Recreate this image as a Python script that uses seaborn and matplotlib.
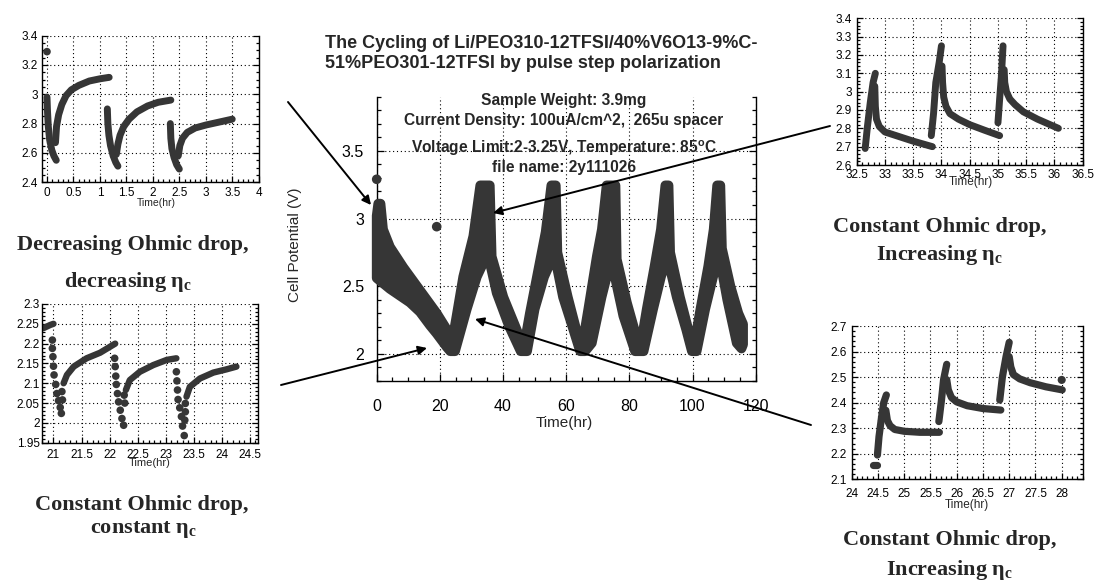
import numpy as np
import matplotlib
matplotlib.use("Agg")
import matplotlib.pyplot as plt
from matplotlib.ticker import MultipleLocator
import seaborn as sns

# ---------------- data ----------------
# main chart: outline of the dense band of points (upper and lower edge)
MAIN_UP_T = [0.0, 0.5, 1.2, 2.0, 4.2, 8.4, 13.7, 19.0, 22.2, 23.6,
             25.3, 27.4, 30.6, 32.8, 35.8, 36.4, 40.1, 44.3, 46.6,
             48.5, 51.0, 53.5, 55.3, 56.7, 57.2, 60.5, 63.5, 65.0,
             67.0, 69.7, 71.3, 72.8, 75.6, 76.0, 79.2, 82.8, 83.5,
             85.5, 88.0, 90.0, 91.4, 92.4, 92.9, 96.0, 99.0, 100.4,
             102.5, 105.0, 106.7, 107.8, 108.8, 109.3, 112.0, 114.5, 116.0, 116.0]
MAIN_UP_V = [3.02, 3.11, 3.11, 2.92, 2.79, 2.64, 2.47, 2.30, 2.18, 2.05,
             2.28, 2.57, 2.87, 3.245, 3.245, 2.72, 2.42, 2.18, 2.05,
             2.30, 2.60, 2.90, 3.245, 3.245, 2.75, 2.42, 2.15, 2.05,
             2.33, 2.72, 2.92, 3.245, 3.245, 2.70, 2.38, 2.08, 2.05,
             2.33, 2.65, 2.92, 3.245, 3.245, 2.75, 2.42, 2.15, 2.05,
             2.33, 2.65, 2.92, 3.245, 3.245, 2.78, 2.50, 2.30, 2.22, 2.07]
MAIN_LO_T = [0.0, 4.2, 10.5, 13.7, 16.9, 19.0, 22.2, 23.3, 24.8,
             28.5, 31.7, 34.3, 35.4, 38.0, 42.0, 45.6, 47.6,
             50.0, 53.0, 55.5, 56.4, 59.0, 62.0, 64.4, 66.0,
             68.1, 71.2, 73.9, 74.5, 78.1, 81.8, 84.5,
             87.5, 90.0, 92.0, 95.0, 98.0, 99.8, 101.3,
             104.0, 106.5, 108.5, 111.0, 114.0, 115.5]
MAIN_LO_V = [2.56, 2.48, 2.38, 2.31, 2.21, 2.15, 2.05, 2.02, 2.02,
             2.33, 2.57, 2.70, 2.72, 2.45, 2.20, 2.02, 2.02,
             2.33, 2.57, 2.70, 2.72, 2.42, 2.20, 2.02, 2.02,
             2.08, 2.42, 2.67, 2.67, 2.28, 2.02, 2.02,
             2.33, 2.57, 2.72, 2.42, 2.18, 2.02, 2.02,
             2.33, 2.57, 2.72, 2.40, 2.08, 2.04]
MAIN_DOT_T = [0.0, 19.0]
MAIN_DOT_V = [3.29, 2.94]
MAIN_XTICKS = [0, 20, 40, 60, 80, 100, 120]
MAIN_YTICKS = [2, 2.5, 3, 3.5]

# inset A: decreasing ohmic drop (0-3.5 h)
A_T = [[0.0, 0.01, 0.025, 0.05, 0.09, 0.13, 0.175],
       [0.16, 0.18, 0.22, 0.28, 0.36, 0.46, 0.60, 0.80, 1.00, 1.175],
       [1.14, 1.15, 1.17, 1.20, 1.25, 1.30, 1.34],
       [1.31, 1.34, 1.38, 1.45, 1.55, 1.70, 1.90, 2.10, 2.34],
       [2.33, 2.34, 2.36, 2.40, 2.45, 2.50],
       [2.48, 2.51, 2.56, 2.65, 2.80, 3.00, 3.25, 3.50]]
A_V = [[2.98, 2.88, 2.78, 2.69, 2.62, 2.58, 2.55],
       [2.67, 2.78, 2.86, 2.93, 2.99, 3.03, 3.06, 3.09, 3.105, 3.115],
       [2.90, 2.80, 2.72, 2.65, 2.58, 2.535, 2.51],
       [2.59, 2.66, 2.72, 2.78, 2.83, 2.88, 2.92, 2.945, 2.96],
       [2.80, 2.70, 2.63, 2.57, 2.52, 2.49],
       [2.58, 2.65, 2.70, 2.74, 2.77, 2.79, 2.81, 2.83]]
A_DOT_T = [0.0]
A_DOT_V = [3.29]
A_XTICKS = [0, 0.5, 1, 1.5, 2, 2.5, 3, 3.5, 4]
A_YTICKS = [2.4, 2.6, 2.8, 3.0, 3.2, 3.4]

# inset B: constant ohmic drop, constant eta_c (21-24.3 h)
B_LINE_T = [[20.82, 20.88, 20.94, 21.0],
            [21.18, 21.24, 21.36, 21.59, 21.83, 22.10],
            [22.29, 22.36, 22.54, 22.78, 23.02, 23.19],
            [23.37, 23.43, 23.61, 23.85, 24.08, 24.26]]
B_LINE_V = [[2.239, 2.243, 2.247, 2.250],
            [2.100, 2.121, 2.142, 2.163, 2.177, 2.200],
            [2.083, 2.108, 2.129, 2.146, 2.159, 2.163],
            [2.066, 2.091, 2.112, 2.127, 2.135, 2.142]]
B_DOT_T = [20.98, 20.98, 20.99, 21.0, 21.01, 21.04, 21.06, 21.09, 21.12, 21.14,
           21.15, 21.16,
           22.09, 22.10, 22.11, 22.12, 22.14, 22.16, 22.19, 22.22, 22.25,
           22.26, 22.27,
           23.19, 23.20, 23.21, 23.22, 23.25, 23.28, 23.30, 23.33,
           23.35, 23.35, 23.34]
B_DOT_V = [2.209, 2.188, 2.167, 2.143, 2.121, 2.097, 2.074, 2.056, 2.039, 2.024,
           2.079, 2.058,
           2.163, 2.142, 2.118, 2.097, 2.074, 2.053, 2.032, 2.011, 1.994,
           2.070, 2.050,
           2.129, 2.106, 2.083, 2.059, 2.038, 2.016, 1.992, 1.968,
           2.049, 2.028, 2.007]
B_XTICKS = [21, 21.5, 22, 22.5, 23, 23.5, 24, 24.5]
B_YTICKS = [1.95, 2.0, 2.05, 2.1, 2.15, 2.2, 2.25, 2.3]

# inset C: constant ohmic drop, increasing eta_c (32.5-36 h)
C_T = [[32.65, 32.69, 32.74, 32.79, 32.83],
       [32.82, 32.83, 32.85, 32.90, 33.00, 33.20, 33.50, 33.84],
       [33.82, 33.86, 33.90, 33.96, 34.00],
       [34.01, 34.02, 34.04, 34.08, 34.15, 34.30, 34.50, 34.76, 35.03],
       [35.00, 35.03, 35.06, 35.09],
       [35.11, 35.12, 35.15, 35.21, 35.30, 35.45, 35.70, 36.07]]
C_V = [[2.69, 2.81, 2.94, 3.05, 3.10],
       [3.03, 2.92, 2.85, 2.81, 2.78, 2.76, 2.73, 2.70],
       [2.76, 2.88, 3.05, 3.16, 3.25],
       [3.14, 3.05, 2.97, 2.92, 2.88, 2.85, 2.82, 2.79, 2.76],
       [2.83, 2.96, 3.08, 3.25],
       [3.12, 3.05, 3.00, 2.96, 2.93, 2.89, 2.85, 2.80]]
C_XTICKS = [32.5, 33, 33.5, 34, 34.5, 35, 35.5, 36, 36.5]
C_YTICKS = [2.6, 2.7, 2.8, 2.9, 3.0, 3.1, 3.2, 3.3, 3.4]

# inset D: constant ohmic drop, increasing eta_c (24.4-28 h)
D_T = [[24.41, 24.49],
       [24.49, 24.52, 24.57, 24.61, 24.66],
       [24.65, 24.68, 24.73, 24.82, 25.00, 25.30, 25.67],
       [25.66, 25.71, 25.75, 25.81],
       [25.81, 25.84, 25.90, 26.00, 26.20, 26.50, 26.84],
       [26.82, 26.87, 26.94, 27.00],
       [27.00, 27.03, 27.08, 27.20, 27.40, 27.70, 28.01]]
D_V = [[2.156, 2.156],
       [2.195, 2.267, 2.345, 2.400, 2.430],
       [2.370, 2.330, 2.310, 2.295, 2.288, 2.284, 2.284],
       [2.326, 2.410, 2.490, 2.550],
       [2.490, 2.450, 2.420, 2.403, 2.388, 2.377, 2.371],
       [2.410, 2.500, 2.580, 2.636],
       [2.580, 2.540, 2.510, 2.493, 2.478, 2.462, 2.450]]
D_DOT_T = [28.0]
D_DOT_V = [2.489]
D_XTICKS = [24, 24.5, 25, 25.5, 26, 26.5, 27, 27.5, 28]
D_YTICKS = [2.1, 2.2, 2.3, 2.4, 2.5, 2.6, 2.7]

TITLE = "The Cycling of Li/PEO310-12TFSI/40%V6O13-9%C-\n51%PEO301-12TFSI by pulse step polarization"
INFO = ["Sample Weight: 3.9mg",
        "Current Density: 100uA/cm^2,  265u spacer",
        r"Voltage Limit:2-3.25V, Temperature: 85$^{\mathsf{o}}$C",
        "file name: 2y111026"]
CAPTIONS = ["Decreasing Ohmic drop,", r"decreasing η$_{\mathbf{c}}$",
            "Constant Ohmic drop,", r"constant η$_{\mathbf{c}}$",
            "Constant Ohmic drop,", r"Increasing η$_{\mathbf{c}}$",
            "Constant Ohmic drop,", r"Increasing η$_{\mathbf{c}}$"]

# ---------------- style ----------------
sns.set_theme(style="ticks")
plt.rcParams["font.family"] = ["Liberation Sans", "DejaVu Sans"]
plt.rcParams["mathtext.fontset"] = "custom"
plt.rcParams["mathtext.rm"] = "Liberation Serif:bold"
plt.rcParams["mathtext.bf"] = "Liberation Serif:bold"
plt.rcParams["mathtext.sf"] = "Liberation Sans:bold"

DARK = "#363636"
W, H = 1095, 582
fig = plt.figure(figsize=(W / 100, H / 100), dpi=100)
fig.patch.set_facecolor("white")


def px_axes(left, top, right, bottom):
    return fig.add_axes([left / W, 1 - bottom / H, (right - left) / W, (bottom - top) / H])


def fmt(v):
    return ("%g" % v)


def style_axes(ax, xticks, yticks, xminor, yminor, fs, xpad, ypad, maj=4, mnr=2.2):
    ax.set_xticks(xticks, [fmt(v) for v in xticks])
    ax.set_yticks(yticks, [fmt(v) for v in yticks])
    ax.xaxis.set_minor_locator(MultipleLocator(xminor))
    ax.yaxis.set_minor_locator(MultipleLocator(yminor))
    ax.tick_params(which="both", direction="in", left=True, right=True,
                   bottom=True, top=False, color="black", width=0.9)
    ax.tick_params(which="major", length=maj)
    ax.tick_params(which="minor", length=mnr)
    ax.tick_params(axis="x", which="major", labelsize=fs, pad=xpad, labelcolor="black")
    ax.tick_params(axis="y", which="major", labelsize=fs, pad=ypad, labelcolor="black")
    ax.grid(True, which="major", color="black", lw=0.8, ls=(0, (1, 2.5)))
    for s in ["left", "right", "bottom"]:
        ax.spines[s].set_color("black")
        ax.spines[s].set_linewidth(1.0)
    ax.spines["top"].set_visible(False)
    ax.set_facecolor("white")


def draw_segments(ax, ts, vs, lw):
    for t, v in zip(ts, vs):
        sns.lineplot(x=t, y=v, ax=ax, sort=False, estimator=None, color=DARK,
                     lw=lw, solid_capstyle="round", solid_joinstyle="round")


# ---------------- main chart ----------------
axm = px_axes(376.7, 96.7, 755.7, 381.0)
axm.set_xlim(0, 120)
axm.set_ylim(1.8, 3.9)
style_axes(axm, MAIN_XTICKS, MAIN_YTICKS, 5, 0.1, 11.5, 13, 9, maj=5, mnr=3)
poly_t = np.r_[MAIN_UP_T, MAIN_LO_T[::-1]]
poly_v = np.r_[MAIN_UP_V, MAIN_LO_V[::-1]]
axm.fill(poly_t, poly_v, facecolor=DARK, edgecolor=DARK, lw=7,
         joinstyle="round", clip_on=False, zorder=3)
sns.scatterplot(x=MAIN_DOT_T, y=MAIN_DOT_V, ax=axm, s=48, color=DARK,
                edgecolor="none", zorder=4, clip_on=False)
axm.set_xlabel("Time(hr)", fontsize=11)
axm.xaxis.set_label_coords(0.494, -0.148)
axm.xaxis.label.set_va("center")
axm.set_ylabel("Cell Potential (V)", fontsize=11)
axm.yaxis.set_label_coords(-0.215, 0.48)
axm.yaxis.label.set_va("center")
for txt, yf in zip(INFO, [0.985, 0.918, 0.8195, 0.7527]):
    axm.text(0.494, yf, txt, transform=axm.transAxes, ha="center", va="center",
             fontsize=11.2, fontweight="bold", zorder=6)
fig.text(325 / W, 1 - 35 / H, TITLE, ha="left", va="top", fontsize=13,
         fontweight="bold", linespacing=1.25)

# ---------------- inset A ----------------
axa = px_axes(41.7, 35.5, 258.7, 182.3)
axa.set_xlim(-0.1, 4.0)
axa.set_ylim(2.4, 3.4)
style_axes(axa, A_XTICKS, A_YTICKS, 0.1, 0.05, 8.5, 3.5, 3)
draw_segments(axa, A_T, A_V, 5.0)
sns.scatterplot(x=A_DOT_T, y=A_DOT_V, ax=axa, s=30, color=DARK, edgecolor="none", zorder=4)
axa.set_xlabel("Time(hr)", fontsize=7.5)
axa.xaxis.set_label_coords(0.526, -0.142)
axa.xaxis.label.set_va("center")
axa.set_ylabel("")

# ---------------- inset B ----------------
axb = px_axes(41.7, 304.0, 258.3, 442.7)
axb.set_xlim(20.79, 24.65)
axb.set_ylim(1.95, 2.3)
style_axes(axb, B_XTICKS, B_YTICKS, 0.1, 0.01, 8.5, 4.5, 1.5)
draw_segments(axb, B_LINE_T, B_LINE_V, 4.6)
sns.scatterplot(x=B_DOT_T, y=B_DOT_V, ax=axb, s=30, color=DARK, edgecolor="none", zorder=4)
axb.set_xlabel("Time(hr)", fontsize=8)
axb.xaxis.set_label_coords(0.5, -0.146)
axb.xaxis.label.set_va("center")
axb.set_ylabel("")

# ---------------- inset C ----------------
axc = px_axes(856.7, 18.3, 1082.7, 165.0)
axc.set_xlim(32.5, 36.5)
axc.set_ylim(2.6, 3.4)
style_axes(axc, C_XTICKS, C_YTICKS, 0.1, 0.02, 8.5, 3, 3.5)
draw_segments(axc, C_T, C_V, 5.0)
axc.set_xlabel("Time(hr)", fontsize=8.5)
axc.xaxis.set_label_coords(0.504, -0.114)
axc.xaxis.label.set_va("center")
axc.set_ylabel("")

# ---------------- inset D ----------------
axd = px_axes(851.7, 326.0, 1082.7, 479.3)
axd.set_xlim(24, 28.4)
axd.set_ylim(2.1, 2.7)
style_axes(axd, D_XTICKS, D_YTICKS, 0.1, 0.02, 8.5, 6.5, 3.5)
draw_segments(axd, D_T, D_V, 5.2)
sns.scatterplot(x=D_DOT_T, y=D_DOT_V, ax=axd, s=34, color=DARK, edgecolor="none", zorder=4)
axd.set_xlabel("Time(hr)", fontsize=8.5)
axd.xaxis.set_label_coords(0.498, -0.168)
axd.xaxis.label.set_va("center")
axd.set_ylabel("")

# ---------------- captions ----------------
CAP_POS = [(133, 245), (128, 282), (142, 505), (144, 530),
           (940, 227), (940, 255), (950, 540), (950, 570)]
for txt, (cx, cy) in zip(CAPTIONS, CAP_POS):
    fig.text(cx / W, 1 - cy / H, txt, ha="center", va="center", fontsize=16,
             fontweight="bold", family=["Liberation Serif", "DejaVu Serif"])

# ---------------- arrows ----------------
ARROWS = [((288, 102), (371, 205)),
          ((830, 126), (493, 213)),
          ((281, 385), (427, 348)),
          ((811, 425), (475, 319))]
for (x0, y0), (x1, y1) in ARROWS:
    fig.patches.append(matplotlib.patches.FancyArrowPatch(
        (x0 / W, 1 - y0 / H), (x1 / W, 1 - y1 / H), transform=fig.transFigure,
        arrowstyle="-|>", mutation_scale=13, lw=1.4, color="black",
        shrinkA=0, shrinkB=0, zorder=10))

fig.savefig("out.png", dpi=100, facecolor="white")
